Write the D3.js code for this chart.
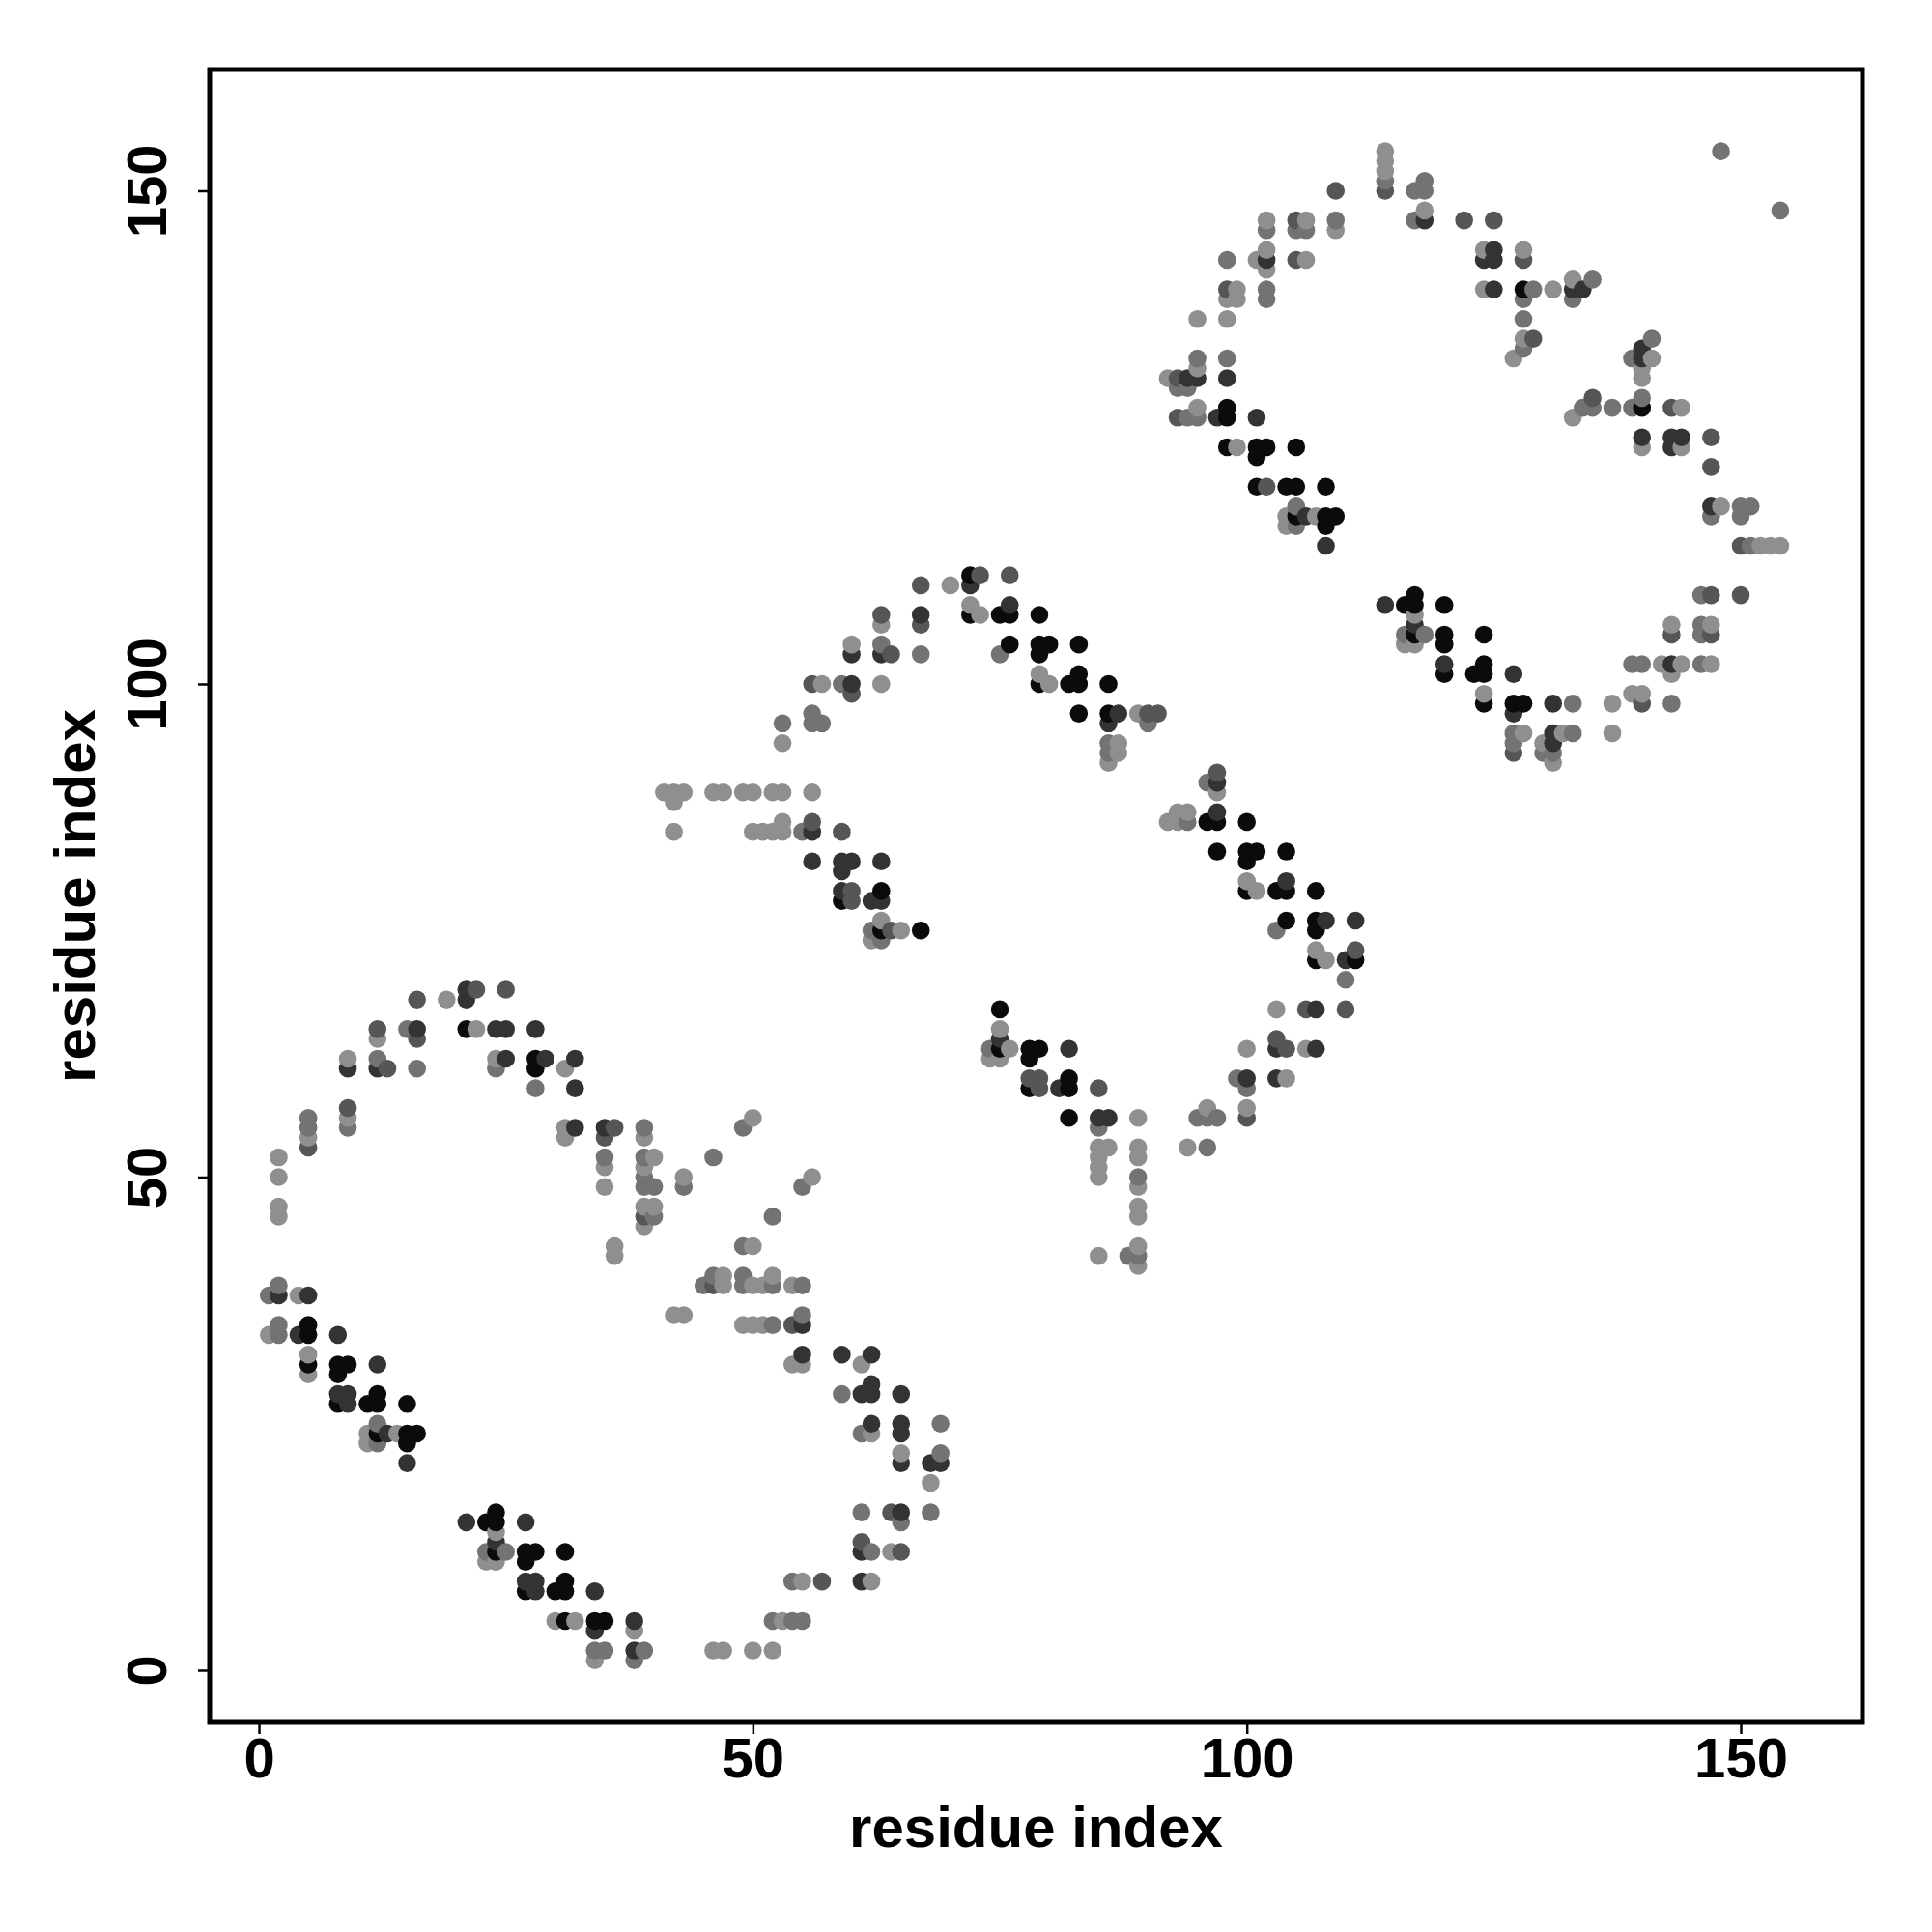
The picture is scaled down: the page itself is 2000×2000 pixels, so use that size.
<!DOCTYPE html>
<html><head><meta charset="utf-8">
<script src="https://cdn.jsdelivr.net/npm/d3@7"></script>
<style>body{margin:0;background:#fff}</style>
</head><body>
<svg id="chart" width="2000" height="2000"></svg>
<script>
// contact pairs [residue i, residue j] grouped by contact strength (grey level)
const weakContacts = [[102,147],[106,147],[101,143],[102,144],[102,142],[106,143],[99,140],[98,139],[99,139],[95,137],[98,137],[95,132],[92,131],[95,128],[99,124],[104,117],[107,117],[104,116],[70,110],[63,106],[72,108],[73,107],
[114,154],[114,153],[114,152],[118,148],[109,146],[124,144],[128,144],[124,140],[131,140],[133,141],[128,135],[127,133],[141,133],[140,132],[140,131],[133,127],[144,128],[140,124],[144,124],[148,118],[152,114],[153,114],[154,114],[117,107],[143,106],[147,106],
[116,104],[117,104],[124,99],[137,98],[128,95],[132,95],[130,94],[131,92],[137,95],[142,102],[144,102],[143,101],[147,102],[139,99],[140,99],[107,73],[108,72],
[60,104],[57,100],[63,100],[53,94],[79,101],[80,100],[89,97],[87,94],[87,93],[86,92],[52,89],[53,89],[56,89],[52,85],[53,86],[53,85],[63,76],[65,75],[62,74],[97,89],[92,86],[93,87],[94,87],[93,86],[100,80],[101,79],[75,65],[76,63],[74,62],[75,62],[89,56],[85,53],[86,53],[85,52],[85,51],[89,53],[89,52],[94,53],[96,57],[100,57],[104,60],[100,63],[106,63],[103,67],[56,50],
[41,89],[42,89],[43,89],[42,88],[46,89],[47,89],[49,89],[50,89],[42,85],[50,85],[51,85],[19,68],[12,64],[22,65],[9,62],[24,62],[31,61],[9,56],[5,54],[2,52],[2,50],[31,55],[31,54],[39,54],[35,51],[40,52],[43,50],[50,56],
[2,47],[2,46],[35,49],[39,47],[40,47],[39,45],[36,43],[36,42],[50,43],[47,40],[47,39],[50,39],[51,39],[42,36],[43,36],[49,35],[50,35],[51,35],[46,2],[47,2],[50,2],[4,38],[1,34],[5,32],[5,30],[11,24],[11,23],[14,24],[24,14],[23,11],[24,11],[30,5],[32,5],[38,4],[34,1],[39,51],
[52,40],[54,39],[54,31],[55,31],[61,31],[62,24],[65,22],[68,19],[64,12],[55,9],[62,9],[53,5],[52,2],[85,50],[89,49],[89,47],[89,46],[85,42],[89,43],[89,41]];

const mediumContacts = [[102,146],[105,146],[106,146],[98,143],[102,140],[102,139],[95,133],[98,133],[93,130],[94,130],[94,127],[95,127],[105,118],[105,116],
[114,151],[118,151],[117,150],[118,150],[117,147],[109,147],[129,140],[135,141],[133,139],[128,139],[128,137],[128,134],[141,135],[139,133],[140,129],[139,128],[135,128],[134,128],[137,128],[147,117],[150,118],[151,118],[150,117],[151,114],[146,109],[146,106],[148,154],[154,148],
[116,105],[118,105],[133,98],[127,95],[127,94],[133,95],[130,93],[131,93],[139,102],[140,102],[146,102],[143,98],[146,105],[110,70],
[63,104],[67,103],[59,100],[56,97],[56,96],[57,96],[53,96],[75,103],[90,96],[86,94],[86,93],[55,85],[62,75],[63,74],[96,90],[94,86],[103,75],[74,63],[85,55],[96,53],[95,56],[96,56],[97,56],[99,60],[100,59],
[15,65],[12,62],[16,61],[24,61],[28,59],[9,55],[5,56],[5,55],[39,55],[35,52],[39,52],[46,52],[49,55],
[39,50],[39,49],[40,49],[40,46],[43,49],[49,43],[52,46],[45,39],[46,40],[49,40],[49,39],[1,38],[2,39],[2,35],[2,34],[12,25],[12,23],[23,12],[25,12],[34,2],[35,2],[39,2],[38,1],
[55,49],[52,39],[55,39],[52,35],[55,36],[59,28],[61,24],[69,25],[69,22],[61,16],[65,15],[68,16],[62,12],[54,9],[52,5],[54,5],[55,5],[89,50],[88,42],[89,42]];

const moderateContacts = [[105,147],[105,143],[98,140],[93,131],[93,127],[102,120],[73,111],[76,111],[67,110],[63,107],[67,106],
[114,150],[109,150],[122,147],[125,147],[128,143],[129,135],[135,129],[143,128],[147,125],[147,122],[150,114],[147,109],[150,109],
[127,93],[140,98],[143,105],[147,105],[111,73],[110,67],
[64,103],[56,100],[60,99],[90,97],[91,97],[56,86],[59,85],[60,79],[60,78],[64,75],[97,91],[78,60],[79,60],[79,59],[85,59],[100,56],[103,64],[104,63],[106,67],
[22,69],[16,68],[25,69],[12,65],[16,64],[13,61],[9,57],[5,53],[36,55],[35,54],
[39,46],[46,39],[54,35],[64,16],[61,13],[65,12],[57,9]];

const strongContacts = [[102,143],[94,131],[95,131],[98,131],[97,127],[101,127],[106,117],[72,110],[67,107],[76,108],
[118,147],[125,144],[124,143],[125,143],[125,140],[133,140],[134,140],[140,134],[140,133],[140,125],[143,125],[144,125],[143,124],[147,118],[108,114],[114,108],
[117,106],[120,102],[127,101],[127,97],[131,98],[131,95],[131,94],[143,102],[108,76],[111,76],[110,72],[107,67],[107,63],
[60,103],[63,103],[60,100],[87,97],[86,96],[56,85],[56,82],[59,82],[60,82],[59,81],[63,82],[59,79],[62,78],[63,78],[97,90],[97,87],[104,80],[75,64],[82,63],[81,59],[85,56],[86,56],[100,60],[103,60],[103,63],
[21,69],[21,68],[16,65],[24,65],[25,65],[28,65],[9,61],[12,61],[25,62],[29,62],[32,62],[32,59],[32,55],[35,55],
[2,38],[5,38],[4,34],[8,34],[12,31],[8,28],[9,28],[9,27],[13,24],[15,21],[21,15],[27,15],[24,13],[27,9],[28,9],[28,8],[34,8],[34,4],[38,5],[38,2],
[55,35],[55,32],[59,32],[62,32],[61,28],[62,28],[62,29],[65,28],[62,25],[65,25],[65,24],[65,21],[68,21],[69,21],[65,16],[61,12],[61,9]];

const strongestContacts = [[98,128],[98,127],[98,124],[101,124],[102,124],[101,123],[105,124],[101,120],[104,120],[105,120],[105,117],[72,111],[72,107],[75,107],[76,107],[79,107],
[128,140],[140,128],[108,120],[108,117],[109,117],[108,116],[116,108],[117,108],[117,109],[120,108],
[117,105],[120,105],[120,104],[124,105],[120,101],[123,101],[124,102],[124,101],[124,98],[127,98],[128,98],[107,79],[107,76],[107,75],[107,72],[111,72],
[76,104],[79,104],[80,104],[79,103],[83,104],[79,100],[82,100],[83,101],[83,100],[86,100],[83,97],[86,97],[59,78],[63,79],[63,75],[67,75],[96,86],[97,86],[100,86],[97,83],[100,83],[101,83],[100,82],[104,83],[100,79],[103,79],[104,79],[104,76],[75,67],[75,63],[78,63],[79,63],[78,62],[78,59],[82,60],[82,59],[82,56],
[21,65],[28,62],[28,61],
[5,35],[5,34],[5,31],[8,31],[9,31],[8,30],[8,27],[11,27],[12,28],[12,27],[15,27],[12,24],[15,24],[16,24],[15,23],[23,15],[24,16],[24,15],[24,12],[27,12],[28,12],[27,11],[31,12],[27,8],[30,8],[31,9],[31,8],[31,5],[34,5],[35,5]];

const levelColors = ["#8f8f8f", "#737373", "#565656", "#333333", "#0b0b0b"];
const tickValues = [0, 50, 100, 150];
const xTitle = "residue index";
const yTitle = "residue index";

const svg = d3.select("#chart");
const box = {left: 217, right: 1928, top: 72, bottom: 1783};
const x = d3.scaleLinear().domain([-4.99, 162.32]).range([box.left, box.right]);
const y = d3.scaleLinear().domain([-5.29, 162.29]).range([box.bottom, box.top]);
const font = "'Liberation Sans', Arial, Helvetica, sans-serif";

const series = [weakContacts, mediumContacts, moderateContacts, strongContacts, strongestContacts];
const points = series.flatMap((arr, level) => arr.map(p => ({i: p[0], j: p[1], level})));
points.sort((a, b) => a.i - b.i || a.j - b.j);

svg.append("g").selectAll("circle").data(points).join("circle")
  .attr("cx", d => x(d.i))
  .attr("cy", d => y(d.j))
  .attr("r", 9.3)
  .attr("fill", d => levelColors[d.level]);

// x axis
const gx = svg.append("g").attr("transform", `translate(0,${box.bottom})`)
  .call(d3.axisBottom(x).tickValues(tickValues).tickSize(12).tickFormat(d3.format("d")));
gx.select(".domain").remove();
gx.selectAll(".tick line").attr("stroke", "#000").attr("stroke-width", 2.5);
gx.selectAll(".tick text").attr("y", 57).attr("dy", 0)
  .attr("font-family", font).attr("font-weight", "bold").attr("font-size", 58).attr("fill", "#000");

// y axis
const gy = svg.append("g").attr("transform", `translate(${box.left},0)`)
  .call(d3.axisLeft(y).tickValues(tickValues).tickSize(12).tickFormat(d3.format("d")));
gy.select(".domain").remove();
gy.selectAll(".tick line").attr("stroke", "#000").attr("stroke-width", 2.5);
gy.selectAll(".tick text").attr("transform", "rotate(-90)").attr("x", 0).attr("y", -45).attr("dy", 0)
  .attr("text-anchor", "middle")
  .attr("font-family", font).attr("font-weight", "bold").attr("font-size", 58).attr("fill", "#000");

// box
svg.append("rect").attr("x", box.left).attr("y", box.top)
  .attr("width", box.right - box.left).attr("height", box.bottom - box.top)
  .attr("fill", "none").attr("stroke", "#000").attr("stroke-width", 5);

// titles
svg.append("text").attr("x", (box.left + box.right) / 2).attr("y", 1912)
  .attr("text-anchor", "middle").attr("font-family", font).attr("font-weight", "bold")
  .attr("font-size", 60).text(xTitle);
svg.append("text").attr("transform", `translate(98,${(box.top + box.bottom) / 2}) rotate(-90)`)
  .attr("text-anchor", "middle").attr("font-family", font).attr("font-weight", "bold")
  .attr("font-size", 60).text(yTitle);
</script>
</body></html>
